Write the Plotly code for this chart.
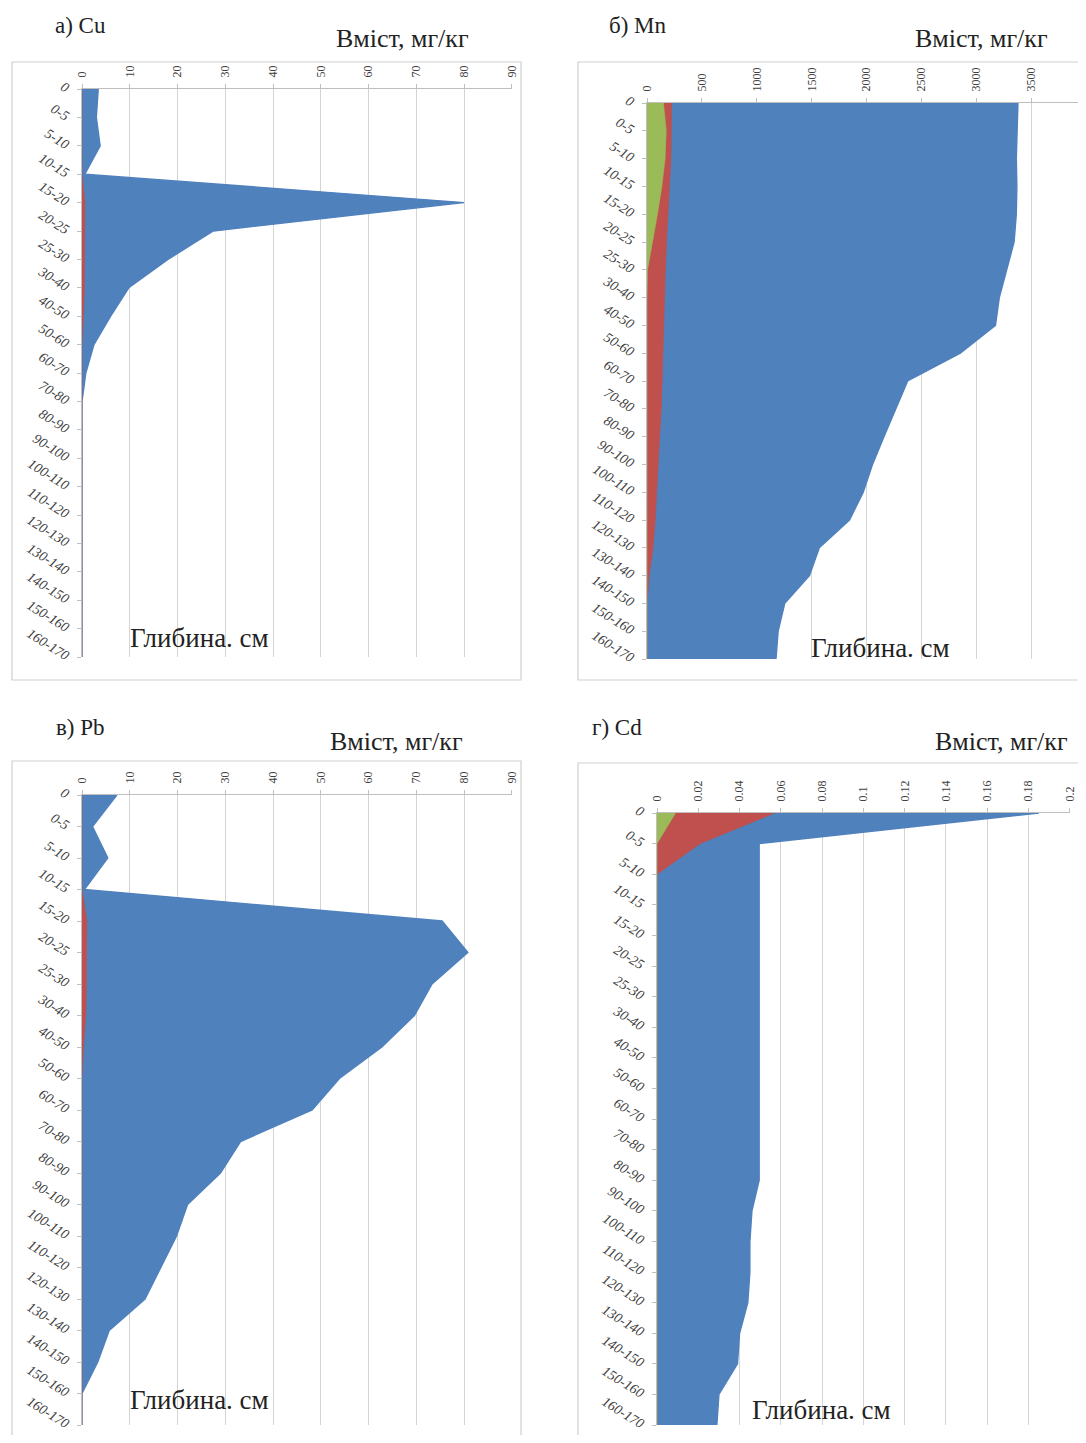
import plotly.graph_objects as go

# page body has an 8px margin: figure sized to fit the 1086x1443 window
OFF = 8
W, H = 1086 - 2 * OFF, 1443 - 2 * OFF

depth = ["0", "0-5", "5-10", "10-15", "15-20", "20-25", "25-30", "30-40", "40-50", "50-60",
         "60-70", "70-80", "80-90", "90-100", "100-110", "110-120", "120-130", "130-140",
         "140-150", "150-160", "160-170"]

cu_blue = [3.4, 3.0, 3.8, 0.6, 80, 27.5, 18, 9.8, 6, 2.5, 0.8, 0, 0, 0, 0, 0, 0, 0, 0, 0, 0]
cu_red = [0, 0, 0, 0, 0.6, 0.6, 0.5, 0.5, 0.3, 0, 0, 0, 0, 0, 0, 0, 0, 0, 0, 0, 0]

mn_blue = [3380, 3375, 3365, 3370, 3365, 3345, 3275, 3210, 3175, 2855, 2375, 2265, 2160,
           2055, 1970, 1845, 1570, 1480, 1255, 1195, 1175]
mn_red = [225, 222, 218, 205, 190, 178, 168, 160, 152, 148, 140, 130, 115, 102, 90, 75, 55,
          20, 0, 0, 0]
mn_green = [150, 175, 165, 135, 95, 50, 5, 0, 0, 0, 0, 0, 0, 0, 0, 0, 0, 0, 0, 0, 0]

pb_blue = [7.3, 2.2, 5.4, 0.5, 75.4, 80.8, 73.3, 69.6, 62.8, 53.9, 48.2, 33.2, 29, 22.1,
           19.8, 16.5, 13.2, 5.7, 3.3, 0, 0]
pb_red = [0, 0, 0, 0, 1.0, 1.0, 0.9, 0.8, 0.3, 0, 0, 0, 0, 0, 0, 0, 0, 0, 0, 0, 0]

cd_blue = [0.185, 0.0495, 0.0495, 0.0495, 0.0495, 0.0495, 0.0495, 0.0495, 0.0495, 0.0495,
           0.0495, 0.0495, 0.0495, 0.046, 0.045, 0.045, 0.044, 0.040, 0.039, 0.030, 0.029]
cd_red = [0.057, 0.021, 0, 0, 0, 0, 0, 0, 0, 0, 0, 0, 0, 0, 0, 0, 0, 0, 0, 0, 0]
cd_green = [0.009, 0, 0, 0, 0, 0, 0, 0, 0, 0, 0, 0, 0, 0, 0, 0, 0, 0, 0, 0, 0]

# value-axis tick labels
cu_ticks = ["0", "10", "20", "30", "40", "50", "60", "70", "80", "90"]
mn_ticks = ["0", "500", "1000", "1500", "2000", "2500", "3000", "3500", "4000"]
pb_ticks = ["0", "10", "20", "30", "40", "50", "60", "70", "80", "90"]
cd_ticks = ["0", "0.02", "0.04", "0.06", "0.08", "0.1", "0.12", "0.14", "0.16", "0.18", "0.2"]

titles = ["а) Cu", "б) Mn", "в) Pb", "г) Cd"]
xlabel = "Вміст, мг/кг"
ylabel = "Глибина. см"

BLUE, RED, GREEN = "#4f81bd", "#c0504d", "#9bbb59"
FONT = "Liberation Serif"

idx = list(range(len(depth)))


def px(x):
    return (x - OFF) / W


def py(y):
    return 1 - (y - OFF) / H


RIGHT = OFF + W  # last visible pixel column of the figure

panels = [
    dict(series=[(cu_blue, BLUE), (cu_red, RED)], ticks=cu_ticks,
         dom=(82, 512, 89, 657), box=(12, 521, 62, 680),
         t=(80, 25), xl=(402, 38), yl=(200, 638)),
    dict(series=[(mn_blue, BLUE), (mn_red, RED), (mn_green, GREEN)], ticks=mn_ticks,
         dom=(647, 1086, 103, 659), box=(578, 1100, 62, 680),
         t=(638, 25), xl=(981, 38), yl=(880, 648)),
    dict(series=[(pb_blue, BLUE), (pb_red, RED)], ticks=pb_ticks,
         dom=(82, 512, 795, 1425), box=(12, 521, 761, 1450),
         t=(80, 727), xl=(396, 741), yl=(199, 1400)),
    dict(series=[(cd_blue, BLUE), (cd_red, RED), (cd_green, GREEN)], ticks=cd_ticks,
         dom=(657, 1070, 813, 1425), box=(578, 1100, 763, 1450),
         t=(617, 727), xl=(1001, 741), yl=(821, 1410)),
]

fig = go.Figure()
shapes = []
annotations = []
layout = {}

for k, p in enumerate(panels):
    n = "" if k == 0 else str(k + 1)
    for j, (vals, col) in enumerate(p["series"]):
        fig.add_trace(go.Scatter(
            x=vals, y=idx, xaxis="x" + n, yaxis="y" + n,
            mode="lines", fill="tozerox", fillcolor=col,
            line=dict(color=col, width=1.4 if j == 0 else 0.6),
            showlegend=False, hoverinfo="skip"))
    tickvals = [float(t) for t in p["ticks"]]
    x0, x1, y0, y1 = p["dom"]
    xmax = tickvals[-1]
    if x1 > RIGHT:  # plot area runs past the window edge: show only visible part
        xmax = xmax * (RIGHT - x0) / (x1 - x0)
        x1 = RIGHT
    else:
        xmax = xmax * 1.0005  # keep the last tick label
    layout["xaxis" + n] = dict(
        domain=[px(x0), px(x1)], range=[0, xmax],
        tickmode="array", tickvals=tickvals, ticktext=p["ticks"],
        side="top", anchor="y" + n, tickangle=-90, automargin=False,
        ticklabeloverflow="allow",
        showgrid=True, gridcolor="#d4d4d4", gridwidth=1, zeroline=False,
        showline=True, linecolor="#bfbfbf", linewidth=1,
        ticks="outside", ticklen=4, tickcolor="#bfbfbf", ticklabelstandoff=4,
        tickfont=dict(family=FONT, size=12, color="#404040"), fixedrange=True)
    layout["yaxis" + n] = dict(
        domain=[py(y1), py(y0)], range=[20, 0], anchor="x" + n, automargin=False,
        tickmode="array", tickvals=idx, ticktext=depth, tickangle=32,
        ticklabeloverflow="allow",
        showgrid=False, zeroline=False, showline=True, linecolor="#bfbfbf", linewidth=1,
        ticks="outside", ticklen=4, tickcolor="#bfbfbf", layer="below traces",
        ticklabelstandoff=5,
        tickfont=dict(family=FONT, size=14, color="#404040", style="italic"),
        fixedrange=True)
    bx0, bx1, by0, by1 = p["box"]
    shapes.append(dict(type="rect", xref="paper", yref="paper",
                       x0=px(bx0), x1=px(bx1), y0=py(by1), y1=py(by0),
                       line=dict(color="#cfcfcf", width=1.2), fillcolor="rgba(0,0,0,0)",
                       layer="below"))
    annotations.append(dict(text=titles[k], x=px(p["t"][0]), y=py(p["t"][1]),
                            xref="paper", yref="paper", showarrow=False,
                            xanchor="center", yanchor="middle",
                            font=dict(family=FONT, size=23, color="#222222")))
    annotations.append(dict(text=xlabel, x=px(p["xl"][0]), y=py(p["xl"][1]),
                            xref="paper", yref="paper", showarrow=False,
                            xanchor="center", yanchor="middle",
                            font=dict(family=FONT, size=26, color="#222222")))
    annotations.append(dict(text=ylabel, x=px(p["yl"][0]), y=py(p["yl"][1]),
                            xref="paper", yref="paper", showarrow=False,
                            xanchor="center", yanchor="middle",
                            font=dict(family=FONT, size=27, color="#222222")))

fig.update_layout(
    template="none",
    width=W, height=H, margin=dict(l=0, r=0, t=0, b=0, pad=0, autoexpand=False),
    paper_bgcolor="white", plot_bgcolor="white",
    shapes=shapes, annotations=annotations, **layout)

fig.write_html("out.html")
